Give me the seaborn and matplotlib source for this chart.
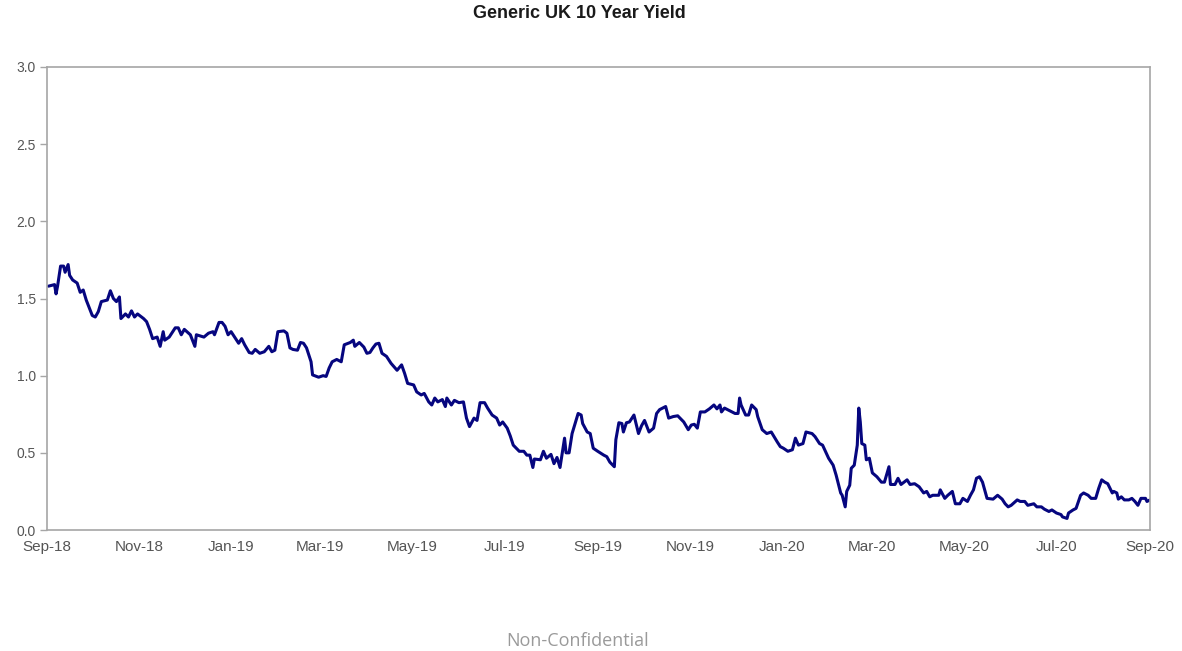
import matplotlib
matplotlib.use("Agg")
import matplotlib.pyplot as plt
import matplotlib.dates as mdates
import seaborn as sns
import pandas as pd

title = "Generic UK 10 Year Yield"
footer = "Non-Confidential"

dates = [
    "2018-09-02", "2018-09-06", "2018-09-07", "2018-09-08", "2018-09-10", "2018-09-12", "2018-09-13",
    "2018-09-15", "2018-09-16", "2018-09-18", "2018-09-21", "2018-09-23", "2018-09-25", "2018-09-27",
    "2018-10-01", "2018-10-03", "2018-10-05", "2018-10-07", "2018-10-11", "2018-10-13", "2018-10-15",
    "2018-10-17", "2018-10-19", "2018-10-20", "2018-10-23", "2018-10-25", "2018-10-27", "2018-10-29",
    "2018-10-31", "2018-11-04", "2018-11-06", "2018-11-08", "2018-11-10", "2018-11-13", "2018-11-15",
    "2018-11-17", "2018-11-18", "2018-11-21", "2018-11-25", "2018-11-27", "2018-11-29", "2018-12-01",
    "2018-12-05", "2018-12-08", "2018-12-09", "2018-12-14", "2018-12-17", "2018-12-20", "2018-12-21",
    "2018-12-24", "2018-12-26", "2018-12-28", "2018-12-30",
    "2019-01-01", "2019-01-04", "2019-01-06", "2019-01-08", "2019-01-10", "2019-01-13", "2019-01-15",
    "2019-01-17", "2019-01-20", "2019-01-23", "2019-01-26", "2019-01-28", "2019-01-30", "2019-02-01",
    "2019-02-05", "2019-02-07", "2019-02-09", "2019-02-11", "2019-02-14", "2019-02-16", "2019-02-18",
    "2019-02-20", "2019-02-23", "2019-02-24", "2019-02-28", "2019-03-03", "2019-03-05", "2019-03-07",
    "2019-03-09", "2019-03-12", "2019-03-15", "2019-03-17", "2019-03-21", "2019-03-23", "2019-03-24",
    "2019-03-27", "2019-03-30", "2019-04-01", "2019-04-03", "2019-04-05", "2019-04-07", "2019-04-09",
    "2019-04-11", "2019-04-14", "2019-04-17", "2019-04-21", "2019-04-24", "2019-04-26", "2019-04-28",
    "2019-05-02", "2019-05-04", "2019-05-07", "2019-05-09", "2019-05-12", "2019-05-14", "2019-05-16",
    "2019-05-18", "2019-05-21", "2019-05-23", "2019-05-24", "2019-05-27", "2019-05-29", "2019-06-01",
    "2019-06-04", "2019-06-06", "2019-06-08", "2019-06-11", "2019-06-13", "2019-06-15", "2019-06-18",
    "2019-06-20", "2019-06-23", "2019-06-26", "2019-06-28", "2019-06-30", "2019-07-03", "2019-07-05",
    "2019-07-07", "2019-07-09", "2019-07-11", "2019-07-14", "2019-07-16", "2019-07-18", "2019-07-20",
    "2019-07-21", "2019-07-25", "2019-07-27", "2019-07-29", "2019-08-01", "2019-08-03", "2019-08-05",
    "2019-08-07", "2019-08-10", "2019-08-11", "2019-08-13", "2019-08-15", "2019-08-17", "2019-08-19",
    "2019-08-21", "2019-08-22", "2019-08-25", "2019-08-27", "2019-08-29", "2019-09-01", "2019-09-05",
    "2019-09-07", "2019-09-09", "2019-09-12", "2019-09-13", "2019-09-15", "2019-09-17", "2019-09-18",
    "2019-09-20", "2019-09-22", "2019-09-25", "2019-09-28", "2019-09-30", "2019-10-02", "2019-10-05",
    "2019-10-08", "2019-10-10", "2019-10-12", "2019-10-16", "2019-10-18", "2019-10-21", "2019-10-24",
    "2019-10-28", "2019-10-31", "2019-11-02", "2019-11-04", "2019-11-06", "2019-11-08", "2019-11-11",
    "2019-11-14", "2019-11-17", "2019-11-19", "2019-11-21", "2019-11-22", "2019-11-24", "2019-11-28",
    "2019-12-01", "2019-12-03", "2019-12-04", "2019-12-05", "2019-12-08", "2019-12-10", "2019-12-12",
    "2019-12-15", "2019-12-16", "2019-12-19", "2019-12-22", "2019-12-25", "2019-12-29", "2019-12-31",
    "2020-01-02", "2020-01-05", "2020-01-08", "2020-01-10", "2020-01-12", "2020-01-15", "2020-01-17",
    "2020-01-21", "2020-01-23", "2020-01-26", "2020-01-28", "2020-02-01", "2020-02-04", "2020-02-06",
    "2020-02-09", "2020-02-10", "2020-02-12", "2020-02-13", "2020-02-15", "2020-02-16", "2020-02-18",
    "2020-02-20", "2020-02-21", "2020-02-22", "2020-02-23", "2020-02-25", "2020-02-26", "2020-02-28",
    "2020-03-01", "2020-03-04", "2020-03-07", "2020-03-09", "2020-03-12", "2020-03-13", "2020-03-16",
    "2020-03-18", "2020-03-20", "2020-03-24", "2020-03-26", "2020-03-29", "2020-04-01", "2020-04-04",
    "2020-04-06", "2020-04-08", "2020-04-10", "2020-04-14", "2020-04-15", "2020-04-18", "2020-04-20",
    "2020-04-23", "2020-04-25", "2020-04-28", "2020-04-30", "2020-05-03", "2020-05-05", "2020-05-07",
    "2020-05-09", "2020-05-11", "2020-05-13", "2020-05-16", "2020-05-20", "2020-05-23", "2020-05-26",
    "2020-05-28", "2020-05-30", "2020-06-01", "2020-06-05", "2020-06-07", "2020-06-10", "2020-06-12",
    "2020-06-16", "2020-06-18", "2020-06-21", "2020-06-23", "2020-06-26", "2020-06-28", "2020-07-01",
    "2020-07-04", "2020-07-05", "2020-07-08", "2020-07-09", "2020-07-12", "2020-07-14", "2020-07-17",
    "2020-07-19", "2020-07-22", "2020-07-24", "2020-07-27", "2020-07-29", "2020-07-31", "2020-08-02",
    "2020-08-04", "2020-08-07", "2020-08-08", "2020-08-10", "2020-08-11", "2020-08-13", "2020-08-15",
    "2020-08-18", "2020-08-20", "2020-08-22", "2020-08-24", "2020-08-26", "2020-08-29", "2020-08-30",
    "2020-09-01",
]

yields = [
    1.58, 1.59, 1.53, 1.58, 1.71, 1.71, 1.67,
    1.72, 1.65, 1.62, 1.60, 1.54, 1.555, 1.49,
    1.39, 1.38, 1.415, 1.48, 1.49, 1.55, 1.50,
    1.48, 1.51, 1.37, 1.40, 1.38, 1.42, 1.38,
    1.40, 1.37, 1.35, 1.30, 1.24, 1.25, 1.19,
    1.285, 1.23, 1.25, 1.31, 1.31, 1.265, 1.30,
    1.265, 1.19, 1.265, 1.25, 1.275, 1.285, 1.265,
    1.345, 1.345, 1.32, 1.265,
    1.285, 1.24, 1.21, 1.24, 1.20, 1.15, 1.145,
    1.17, 1.145, 1.155, 1.19, 1.155, 1.165, 1.285,
    1.29, 1.275, 1.18, 1.17, 1.165, 1.215, 1.21,
    1.18, 1.09, 1.005, 0.99, 1.00, 0.995, 1.05,
    1.09, 1.105, 1.09, 1.20, 1.215, 1.23, 1.19,
    1.215, 1.185, 1.145, 1.15, 1.18, 1.205, 1.21,
    1.145, 1.125, 1.08, 1.035, 1.07, 1.015, 0.95,
    0.94, 0.895, 0.875, 0.885, 0.83, 0.81, 0.855,
    0.83, 0.845, 0.80, 0.855, 0.81, 0.84, 0.825,
    0.83, 0.725, 0.67, 0.725, 0.71, 0.825, 0.825,
    0.79, 0.745, 0.725, 0.68, 0.70, 0.66, 0.61,
    0.55, 0.53, 0.51, 0.51, 0.485, 0.485, 0.405,
    0.46, 0.455, 0.51, 0.465, 0.49, 0.43, 0.47,
    0.405, 0.595, 0.50, 0.50, 0.625, 0.69, 0.755,
    0.745, 0.69, 0.635, 0.625, 0.53, 0.51, 0.485,
    0.475, 0.44, 0.41, 0.585, 0.695, 0.69, 0.635,
    0.695, 0.70, 0.745, 0.625, 0.675, 0.71, 0.635,
    0.66, 0.755, 0.78, 0.80, 0.725, 0.735, 0.74,
    0.70, 0.65, 0.68, 0.685, 0.66, 0.765, 0.765,
    0.785, 0.81, 0.785, 0.81, 0.765, 0.79, 0.77,
    0.755, 0.755, 0.855, 0.81, 0.745, 0.745, 0.81,
    0.78, 0.735, 0.65, 0.625, 0.635, 0.57, 0.54,
    0.53, 0.51, 0.52, 0.595, 0.55, 0.56, 0.635,
    0.625, 0.605, 0.56, 0.55, 0.465, 0.42, 0.355,
    0.24, 0.225, 0.15, 0.25, 0.29, 0.40, 0.42,
    0.55, 0.79, 0.70, 0.56, 0.55, 0.455, 0.465,
    0.37, 0.345, 0.31, 0.31, 0.41, 0.295, 0.295,
    0.335, 0.295, 0.325, 0.295, 0.30, 0.28, 0.24,
    0.25, 0.215, 0.225, 0.225, 0.26, 0.205, 0.225,
    0.25, 0.17, 0.17, 0.205, 0.185, 0.225, 0.26,
    0.335, 0.345, 0.31, 0.205, 0.20, 0.225, 0.20,
    0.17, 0.15, 0.16, 0.195, 0.185, 0.185, 0.16,
    0.17, 0.15, 0.15, 0.135, 0.12, 0.13, 0.11,
    0.10, 0.085, 0.075, 0.11, 0.13, 0.14, 0.225,
    0.24, 0.225, 0.205, 0.205, 0.27, 0.325, 0.31,
    0.30, 0.24, 0.25, 0.24, 0.20, 0.215, 0.195,
    0.195, 0.205, 0.185, 0.16, 0.205, 0.205, 0.185,
    0.195,
]

y_ticks = [0.0, 0.5, 1.0, 1.5, 2.0, 2.5, 3.0]

df = pd.DataFrame({"date": pd.to_datetime(dates), "yield": yields})

sns.set_style("white")
plt.rcParams["font.family"] = ["Liberation Sans", "DejaVu Sans"]

fig = plt.figure(figsize=(11.82, 6.51), dpi=100)
ax = fig.add_axes([47 / 1182, 1 - 530 / 651, (1150 - 47) / 1182, (530 - 67) / 651])

sns.lineplot(data=df, x="date", y="yield", ax=ax, color="#06067f", linewidth=2.2)

ax.set_xlim(pd.Timestamp("2018-09-01"), pd.Timestamp("2020-09-01"))
ax.set_ylim(0, 3.0)
ax.set_yticks(y_ticks)
ax.yaxis.set_major_formatter(matplotlib.ticker.FormatStrFormatter("%.1f"))
ax.xaxis.set_major_locator(mdates.MonthLocator(bymonth=[1, 3, 5, 7, 9, 11]))
ax.xaxis.set_major_formatter(mdates.DateFormatter("%b-%y"))
ax.set_xlabel("")
ax.set_ylabel("")

for s in ax.spines.values():
    s.set_visible(True)
    s.set_color("#a6a6a6")
    s.set_linewidth(1.2)

ax.tick_params(axis="y", length=5, width=1, color="#a6a6a6", labelsize=10, labelcolor="#555555", pad=3, left=True)
ax.tick_params(axis="x", length=0, labelsize=11, labelcolor="#555555", pad=7)

fig.text(579 / 1182, 1 - 14 / 651, title, ha="center", va="center", fontsize=13, fontweight="bold", color="#1a1a1a")
fig.text(578 / 1182, 1 - 641 / 651, footer, ha="center", va="center", fontsize=13,
         color="#9a9a9a", family=["Open Sans", "DejaVu Sans"])

fig.savefig("out.png", dpi=100)
